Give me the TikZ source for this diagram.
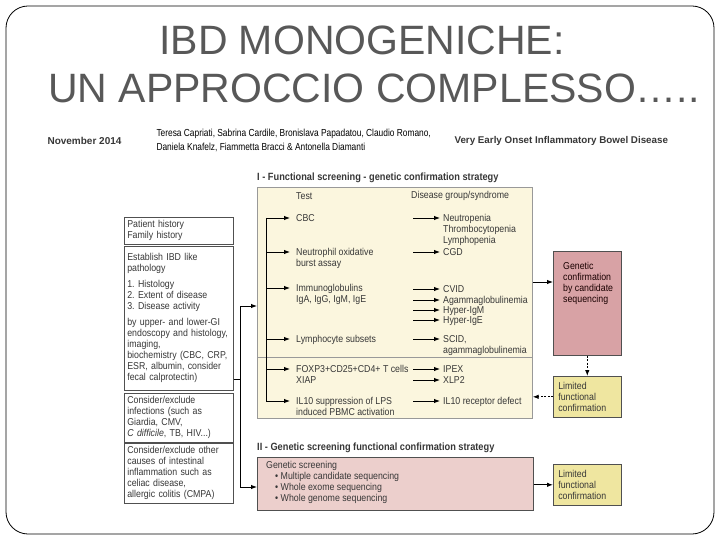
\documentclass[tikz,border=0pt]{standalone}
\usepackage{fontspec}
\setmainfont{Liberation Sans}
\newfontfamily\narrowfont[FakeStretch=0.82]{Liberation Sans}
\newfontfamily\condfont[FakeStretch=0.88]{Liberation Sans}
\usepackage{xcolor}
\usepackage{tikz}
\usetikzlibrary{arrows.meta,positioning,calc}

\definecolor{titlegray}{RGB}{88,88,88}
\definecolor{txtgray}{RGB}{55,55,55}
\definecolor{boxgray}{RGB}{80,80,80}
\definecolor{panelcream}{RGB}{251,246,222}
\definecolor{confred}{RGB}{216,162,165}
\definecolor{screenpink}{RGB}{236,207,204}
\definecolor{limyellow}{RGB}{239,230,160}

\begin{document}
\frenchspacing
\begin{tikzpicture}[x=1pt,y=-1pt,
    txt/.style={font=\condfont\fontsize{10}{11}\selectfont, text=txtgray, inner sep=0pt, align=left},
    hdr/.style={font=\condfont\bfseries\fontsize{10.5}{12}\selectfont, text=txtgray, inner sep=0pt, anchor=west},
    arr/.style={-{Latex[length=6pt,width=4.5pt]}, line width=0.9pt, black},
    dasharr/.style={arr, dash pattern=on 2pt off 1.5pt},
    leftbox/.style={draw=boxgray, line width=0.7pt, fill=white, anchor=north west, text width=103pt, inner xsep=3pt, align=left, font=\condfont\fontsize{10}{11}\selectfont, text=txtgray},
    smallbox/.style={draw=boxgray, line width=0.6pt, anchor=north west, text width=58pt, inner xsep=5pt, align=left, font=\condfont\fontsize{10}{11}\selectfont, text=txtgray}]
    \useasboundingbox (0,0) rectangle (720,540);
    % Rahmen der Folie
    \draw[line width=0.8pt, rounded corners=22pt] (6,6) rectangle (714,534);

    % Titel
    \node[font=\fontsize{41}{48}\selectfont, text=titlegray] (title1) at (362,40) {IBD MONOGENICHE:};
    \node[font=\fontsize{41}{48}\selectfont, text=titlegray] (title2) at (374,88) {UN APPROCCIO COMPLESSO…..};

    % Kopfzeile des Artikels
    \node[anchor=west, font=\bfseries\fontsize{10}{12}\selectfont, text=txtgray] (date) at (44,141) {November 2014};
    \node[anchor=west, align=left, font=\narrowfont\fontsize{10.2}{14}\selectfont, text=black] (authors) at (153,140)
        {Teresa Capriati, Sabrina Cardile, Bronislava Papadatou, Claudio Romano,\\Daniela Knafelz, Fiammetta Bracci \& Antonella Diamanti};
    \node[anchor=west, font=\bfseries\fontsize{9.8}{12}\selectfont, text=txtgray] (journal) at (451,141) {Very Early Onset Inflammatory Bowel Disease};

    % Kasten I
    \node[hdr] (titleI) at (257,178) {I - Functional screening - genetic confirmation strategy};
    \node[draw=gray!80, line width=0.7pt, fill=panelcream, anchor=north west, minimum width=275pt, minimum height=231pt] (panI) at (257,187) {};
    \draw[gray!80, line width=0.7pt] (panI.west |- 0,357) -- (panI.east |- 0,357);
    \node[txt, anchor=west] (hdtest) at (296,196) {Test};
    \node[txt, anchor=west] (hddis) at (411,196) {Disease group/syndrome};

    % Tests mit Klammer
    \foreach \n/\y/\lbl in {1/218/CBC, 2/252/{Neutrophil oxidative\\burst assay}, 3/288/{Immunoglobulins\\IgA, IgG, IgM, IgE},
                          4/339/Lymphocyte subsets, 5/369/{FOXP3+CD25+CD4+ T cells\\XIAP}, 6/401/{IL10 suppression of LPS\\induced PBMC activation}} {
        \coordinate (brk\n) at (266,\y);
        \node[txt, anchor=north west] (test\n) at (296,\y-3.5) {\lbl};
        \draw[arr, shorten >=6pt] (brk\n) -- (brk\n -| test\n.west);
    }
    \draw[line width=0.9pt] (brk1) -- (brk6);

    % Krankheitsgruppen
    \foreach \n/\y/\lbl in {1/218/{Neutropenia\\Thrombocytopenia\\Lymphopenia}, 2/252/CGD, 3/289/CVID, 4/300/Agammaglobulinemia,
                          5/310/Hyper-IgM, 6/320/Hyper-IgE, 7/339/{SCID,\\agammaglobulinemia}, 8/369/IPEX, 9/380/XLP2,
                          10/401/IL10 receptor defect} {
        \coordinate (diss\n) at (413,\y);
        \node[txt, anchor=north west] (dis\n) at (443,\y-3.5) {\lbl};
        \draw[arr, shorten >=3pt] (diss\n) -- (diss\n -| dis\n.west);
    }

    % Bestaetigung rechts
    \node[smallbox, fill=confred, minimum height=104pt] (gencf) at (553,251) {};
    \node[txt, anchor=north west, text=black!75!red!40!black] (gencftx) at (563,262) {Genetic\\confirmation\\by candidate\\sequencing};
    \node[smallbox, fill=limyellow, minimum height=41pt] (limI) at (553,376) {Limited\\functional\\confirmation};
    \draw[arr] (panI.east |- 0,282) -- (gencf.west |- 0,282);
    \draw[dasharr] (gencf.south) -- (limI.north);
    \draw[dasharr] (limI.west) -- (limI.west -| panI.east);

    % Kasten II
    \node[hdr] (titleII) at (257,448) {II - Genetic screening functional confirmation strategy};
    \node[draw=boxgray, line width=0.7pt, fill=screenpink, anchor=north west, minimum width=276pt, minimum height=53pt] (panII) at (257,457) {};
    \node[txt, anchor=north west] (screentx) at (266,461)
        {Genetic screening\\\hspace{9pt}• Multiple candidate sequencing\\\hspace{9pt}• Whole exome sequencing\\\hspace{9pt}• Whole genome sequencing};
    \node[smallbox, fill=limyellow, minimum height=41pt] (limII) at (553,464) {Limited\\functional\\confirmation};
    \draw[arr] (panII.east |- limII.west) -- (limII.west);

    % Linke Spalte
    \node[leftbox, minimum height=26pt] (pathist) at (124,217) {Patient history\\Family history};
    \node[leftbox, minimum height=144pt] (establ) at (124,246)
        {Establish IBD like\\pathology\\[5pt]1. Histology\\2. Extent of disease\\3. Disease activity\\[5pt]by upper- and lower-GI\\endoscopy and histology,\\imaging,\\biochemistry (CBC, CRP,\\ESR, albumin, consider\\fecal calprotectin)};
    \node[leftbox, minimum height=46pt] (infect) at (124,393)
        {Consider/exclude\\infections (such as\\Giardia, CMV,\\\textit{C difficile}, TB, HIV...)};
    \node[leftbox, minimum height=58pt] (othcau) at (124,443)
        {Consider/exclude other\\causes of intestinal\\inflammation such as\\celiac disease,\\allergic colitis (CMPA)};

    % Verzweigung zu I und II
    \coordinate (spTop) at (240,306);
    \coordinate (spBot) at (240,487);
    \draw[line width=0.9pt] (spTop) -- (spBot);
    \draw[line width=0.9pt] (establ.east |- 0,379) -- (spTop |- 0,379);
    \draw[arr] (spTop) -- (spTop -| panI.west);
    \draw[arr] (spBot) -- (spBot -| panII.west);
\end{tikzpicture}
\end{document}
